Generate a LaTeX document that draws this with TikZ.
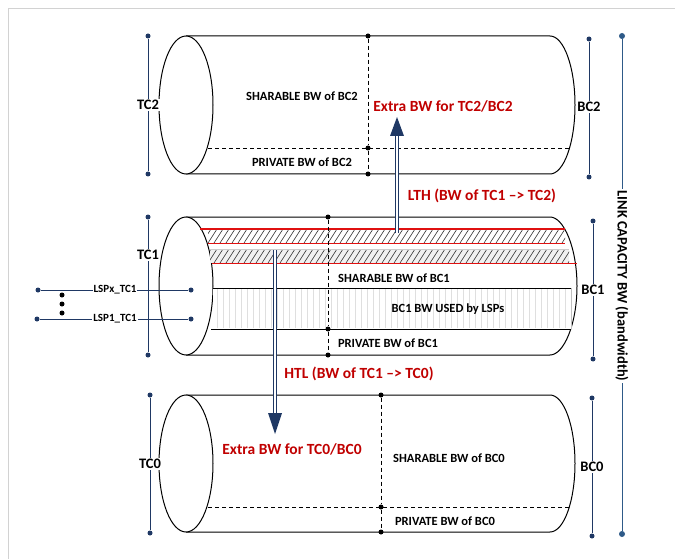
\documentclass[tikz,border=0pt]{standalone}
\usepackage{fontspec}
\setmainfont{Carlito}
\definecolor{navy}{HTML}{1F3864}
\definecolor{steel}{HTML}{2E5A88}
\definecolor{redlbl}{HTML}{C00000}
\definecolor{redln}{HTML}{E01010}
\begin{document}
\begin{tikzpicture}[x=1pt,y=-1pt,
  cylline/.style={line width=1pt, black},
  dashln/.style={dashed, dash pattern=on 4pt off 3pt, line width=0.7pt, black},
  bdot/.style={circle, fill=black, inner sep=0pt, minimum size=5pt},
  ndot/.style={circle, fill=navy, inner sep=0pt, minimum size=5pt},
  sdot/.style={circle, fill=steel, inner sep=0pt, minimum size=6pt},
  brk/.style={navy, line width=1pt},
  lbl/.style={font=\bfseries\fontsize{12.5}{12.5}\selectfont, inner sep=1pt},
  rlbl/.style={font=\bfseries\fontsize{15.5}{15.5}\selectfont, text=redlbl, inner sep=1pt},
  blbl/.style={font=\bfseries\fontsize{14.5}{14.5}\selectfont, fill=white, inner sep=1.5pt},
  llbl/.style={font=\bfseries\fontsize{11}{11}\selectfont, fill=white, inner sep=1pt},
  dbl/.style={navy, line width=0.8pt, double=white, double distance=1.6pt},
  hatchln/.style={black!80, line width=0.6pt}]
\useasboundingbox (0,0) rectangle (675,559);
% frame
\draw[gray!35, line width=1pt] (8,559) -- (8,9) -- (675,9);

% ---------- top cylinder (BC2)
\draw[cylline] (186,36) -- (550,36) .. controls (563.8,36) and (575,66.9) .. (575,105)
  .. controls (575,143.1) and (563.8,174) .. (550,174) -- (186,174);
\draw[cylline, fill=white] (186,105) ellipse [x radius=27pt, y radius=69pt];
\node[bdot] (t1) at (368,36) {};
\node[bdot] (t2) at (368,148) {};
\node[bdot] (t3) at (368,174) {};
\coordinate (tl) at (208,148);
\coordinate (tr) at (571,148);
\draw[dashln] (tl) -- (tr);
\draw[dashln] (t1) -- (t2) -- (t3);
\node[lbl] at (302,96) {SHARABLE BW of BC2};
\node[lbl] at (302,162) {PRIVATE BW of BC2};

% ---------- middle cylinder (BC1)
\draw[cylline] (186,217) -- (550,217) .. controls (563.8,217) and (577,247.9) .. (577,286)
  .. controls (577,324.1) and (563.8,355) .. (550,355) -- (186,355);
\draw[cylline, fill=white] (186,286) ellipse [x radius=27pt, y radius=69pt];
% strip 1
\fill[white] (208,229) rectangle (565,243);
\begin{scope}
\clip (208,229) rectangle (565,243);
\foreach \x in {196,202,...,580} \draw[hatchln] (\x,243) -- (\x+9,229);
\end{scope}
\draw[redln, line width=1.2pt] (200,229) -- (565,229);
\draw[redln, line width=0.8pt] (208,243) -- (565,243);
% strip 2
\fill[gray!12] (210,249) rectangle (569,263);
\begin{scope}
\clip (210,249) rectangle (569,263);
\foreach \x in {196,202,...,584} \draw[hatchln] (\x,263) -- (\x+9,249);
\end{scope}
\draw[gray!40, line width=0.5pt] (210,249) -- (569,249);
\draw[redln, line width=1pt] (212,263) -- (577,263);
% LSP box
\fill[white] (213,288) rectangle (571,329);
\foreach \x in {217,223,...,568} \draw[gray!25, line width=0.4pt] (\x,289) -- (\x,328);
\draw[gray!50, line width=0.5pt] (571,288) -- (571,329);
\draw[black, line width=1pt] (213,288) -- (571,288);
\draw[black, line width=1pt] (211,329) -- (571,329);
\node[bdot] (m1) at (328,217) {};
\node[bdot] (m2) at (328,329) {};
\node[bdot] (m3) at (328,355) {};
\draw[dashln] (m1) -- (m2) -- (m3);
\node[lbl] at (394,278) {SHARABLE BW of BC1};
\node[lbl] at (448,309) {BC1 BW USED by LSPs};
\node[lbl] at (388,343) {PRIVATE BW of BC1};

% ---------- bottom cylinder (BC0)
\draw[cylline] (186,395) -- (550,395) .. controls (563.8,395) and (575,425.7) .. (575,463.5)
  .. controls (575,501.3) and (563.8,532) .. (550,532) -- (186,532);
\draw[cylline, fill=white] (186,463.5) ellipse [x radius=27pt, y radius=68.5pt];
\node[bdot] (b1) at (381,395) {};
\node[bdot] (b2) at (381,507) {};
\node[bdot] (b3) at (381,532) {};
\coordinate (bl) at (208,507);
\coordinate (br) at (570,507);
\draw[dashln] (bl) -- (br);
\draw[dashln] (b1) -- (b2) -- (b3);
\node[lbl] at (449,458) {SHARABLE BW of BC0};
\node[lbl] at (445,521) {PRIVATE BW of BC0};

% ---------- arrows
\coordinate (lthS) at (397,233);
\coordinate (lthB) at (397,136);
\coordinate (lthT) at (397,117);
\draw[dbl] (lthS) -- (lthB);
\fill[navy] ([xshift=-7pt]lthB) -- (lthT) -- ([xshift=7pt]lthB) -- cycle;
\coordinate (htlS) at (275,250);
\coordinate (htlB) at (275,413);
\coordinate (htlT) at (275,434);
\draw[dbl] (htlS) -- (htlB);
\fill[navy] ([xshift=-7pt]htlB) -- (htlT) -- ([xshift=7pt]htlB) -- cycle;

\node[rlbl] at (443,106) {Extra BW for TC2/BC2};
\node[rlbl] at (482,196) {LTH (BW of TC1 –> TC2)};
\node[rlbl] at (359,374) {HTL (BW of TC1 –> TC0)};
\node[rlbl] at (292,449) {Extra BW for TC0/BC0};

% ---------- brackets
\node[ndot] (tc2a) at (148,36) {};
\node[ndot] (tc2b) at (148,174) {};
\draw[brk] (tc2a) -- (tc2b);
\node[blbl] at (148,105) {TC2};
\node[ndot] (bc2a) at (589,39) {};
\node[ndot] (bc2b) at (589,177) {};
\draw[brk] (bc2a) -- (bc2b);
\node[blbl] at (589,107) {BC2};

\node[ndot] (tc1a) at (148,217) {};
\node[ndot] (tc1b) at (148,355) {};
\draw[brk] (tc1a) -- (tc1b);
\node[blbl] at (148,255) {TC1};
\node[ndot] (bc1a) at (593,221) {};
\node[ndot] (bc1b) at (593,359) {};
\draw[brk] (bc1a) -- (bc1b);
\node[blbl] at (593,290) {BC1};

\node[ndot] (tc0a) at (150,395) {};
\node[ndot] (tc0b) at (150,533) {};
\draw[brk] (tc0a) -- (tc0b);
\node[blbl] at (150,464) {TC0};
\node[ndot] (bc0a) at (592,398) {};
\node[ndot] (bc0b) at (592,536) {};
\draw[brk] (bc0a) -- (bc0b);
\node[blbl] at (592,467) {BC0};

\node[sdot] (lca) at (622,36) {};
\node[sdot] (lcb) at (622,534) {};
\draw[steel, line width=1pt] (lca) -- (lcb);
\node[blbl, rotate=-90] at (622,286) {LINK CAPACITY BW (bandwidth)};

% ---------- LSPs
\node[ndot] (lxa) at (38,290) {};
\node[ndot] (lxb) at (191,290) {};
\draw[brk] (lxa) -- (lxb);
\node[llbl] at (115,290) {LSPx\_TC1};
\node[ndot] (l1a) at (37,319) {};
\node[ndot] (l1b) at (191,319) {};
\draw[brk] (l1a) -- (l1b);
\node[llbl] at (115,319) {LSP1\_TC1};
\node[bdot] (v1) at (62,295) {};
\node[bdot] (v2) at (62,304) {};
\node[bdot] (v3) at (62,313) {};
\end{tikzpicture}
\end{document}
